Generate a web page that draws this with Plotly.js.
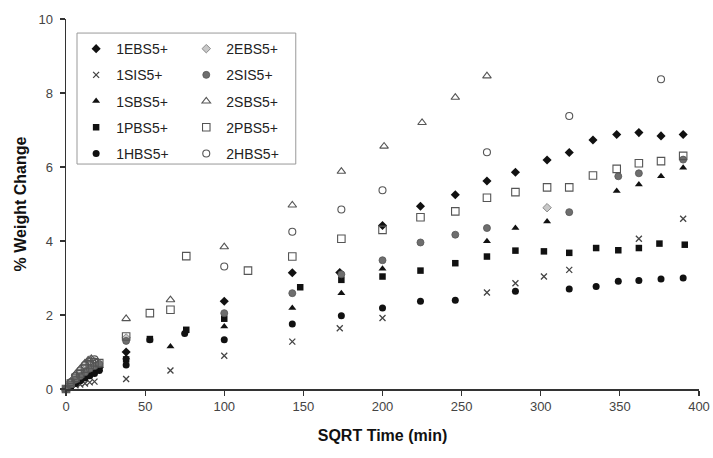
<!DOCTYPE html>
<html>
<head>
<meta charset="utf-8">
<script src="https://cdn.plot.ly/plotly-3.0.1.min.js"></script>
<style>html,body{margin:0;padding:0;background:#fff;}#chart{width:713px;height:458px;}</style>
</head>
<body>
<div id="chart"></div>
<script>
// ---- data ----
var x_1EBS = [0,3,6,9,12,15,18,21,38,100,143,173,200,224,246,266,284,304,318,333,348,362,376,390];
var y_1EBS = [0,0.1,0.2,0.3,0.38,0.45,0.52,0.58,1.0,2.37,3.14,3.15,4.42,4.94,5.25,5.62,5.86,6.19,6.39,6.73,6.88,6.93,6.84,6.88];

var x_2EBS = [0,3,6,9,12,15,18,38,304];
var y_2EBS = [0,0.2,0.38,0.52,0.68,0.78,0.75,1.38,4.9];

var x_1SIS = [0,3,6,9,12,15,18,38,66,100,143,173,200,266,284,302,318,362,390];
var y_1SIS = [0,0.05,0.1,0.12,0.15,0.18,0.2,0.27,0.5,0.9,1.28,1.64,1.92,2.61,2.86,3.04,3.22,4.06,4.6];

var x_2SIS = [0,3,6,9,12,15,18,21,38,100,143,174,200,224,246,266,318,349,362,390];
var y_2SIS = [0,0.12,0.25,0.35,0.45,0.55,0.62,0.68,1.3,2.05,2.59,3.1,3.48,3.96,4.17,4.35,4.78,5.75,5.83,6.2];

var x_1SBS = [0,3,6,9,12,15,18,21,38,66,100,143,174,200,266,284,304,348,362,376,390];
var y_1SBS = [0,0.08,0.17,0.25,0.33,0.4,0.47,0.53,0.85,1.15,1.69,2.19,2.59,3.25,3.99,4.35,4.53,5.35,5.53,5.75,5.98];

var x_2SBS = [0,3,6,9,12,14,16,38,66,100,143,174,201,225,246,266];
var y_2SBS = [0,0.2,0.4,0.55,0.7,0.78,0.82,1.9,2.41,3.84,4.97,5.88,6.56,7.2,7.88,8.46];

var x_1PBS = [0,3,6,9,12,15,18,21,38,53,76,100,148,174,200,224,246,266,284,302,318,335,349,362,375,391];
var y_1PBS = [0,0.09,0.18,0.27,0.35,0.42,0.5,0.56,0.8,1.35,1.6,1.9,2.75,2.95,3.04,3.2,3.4,3.58,3.74,3.72,3.68,3.81,3.75,3.81,3.93,3.9];

var x_2PBS = [0,3,6,9,12,15,18,21,38,53,66,76,115,143,174,200,224,246,266,284,304,318,333,348,362,376,390];
var y_2PBS = [0,0.15,0.3,0.42,0.55,0.65,0.72,0.7,1.42,2.05,2.14,3.59,3.2,3.58,4.06,4.3,4.64,4.8,5.17,5.32,5.45,5.45,5.77,5.95,6.1,6.16,6.3];

var x_1HBS = [0,3,6,9,12,15,18,21,38,53,75,100,143,174,200,224,246,284,318,335,349,362,376,390];
var y_1HBS = [0,0.07,0.15,0.22,0.3,0.36,0.42,0.5,0.65,1.33,1.5,1.33,1.76,1.98,2.19,2.37,2.4,2.64,2.7,2.77,2.91,2.93,2.97,3.0];

var x_2HBS = [0,3,6,9,12,15,18,100,143,174,200,266,318,376];
var y_2HBS = [0,0.18,0.35,0.5,0.65,0.75,0.8,3.31,4.25,4.85,5.37,6.4,7.38,8.37];

var seriesNames = ['1EBS5+','2EBS5+','1SIS5+','2SIS5+','1SBS5+','2SBS5+','1PBS5+','2PBS5+','1HBS5+','2HBS5+'];
var xTicks = [0,50,100,150,200,250,300,350,400];
var yTicks = [0,2,4,6,8,10];

// ---- styling ----
var black = '#111111';
var openLine = '#555555';
function tr(name, x, y, symbol, size, fill, lineColor, lineWidth, legend) {
  return {
    type: 'scatter', mode: 'markers', name: name, x: x, y: y,
    legend: legend, legendgroup: name, cliponaxis: false,
    marker: {symbol: symbol, size: size, color: fill, line: {color: lineColor, width: lineWidth}}
  };
}
var data = [
  tr(seriesNames[0], x_1EBS, y_1EBS, 'diamond', 7, black, black, 0, 'legend'),
  tr(seriesNames[2], x_1SIS, y_1SIS, 'x-thin', 6, '#444', '#444', 1.3, 'legend'),
  tr(seriesNames[4], x_1SBS, y_1SBS, 'triangle-up', 7, black, black, 0, 'legend'),
  tr(seriesNames[6], x_1PBS, y_1PBS, 'square', 6.5, black, black, 0, 'legend'),
  tr(seriesNames[8], x_1HBS, y_1HBS, 'circle', 7, black, black, 0, 'legend'),
  tr(seriesNames[1], x_2EBS, y_2EBS, 'diamond', 6.5, '#c8c8c8', '#8a8a8a', 1, 'legend2'),
  tr(seriesNames[3], x_2SIS, y_2SIS, 'circle', 7, '#6e6e6e', '#555', 0.8, 'legend2'),
  tr(seriesNames[5], x_2SBS, y_2SBS, 'triangle-up-open', 7.5, openLine, openLine, 1.1, 'legend2'),
  tr(seriesNames[7], x_2PBS, y_2PBS, 'square-open', 7.5, openLine, openLine, 1.1, 'legend2'),
  tr(seriesNames[9], x_2HBS, y_2HBS, 'circle-open', 7, openLine, openLine, 1.1, 'legend2')
];

var legendCommon = {
  font: {family: 'Liberation Sans, Arial, sans-serif', size: 14, color: '#222'},
  bgcolor: 'rgba(0,0,0,0)', borderwidth: 0,
  traceorder: 'grouped', tracegroupgap: 5,
  xanchor: 'left', yanchor: 'top', itemclick: false
};

var layout = {
  width: 713, height: 458,
  margin: {l: 66, r: 14, t: 19, b: 69},
  paper_bgcolor: '#fff', plot_bgcolor: '#fff',
  showlegend: true,
  legend: Object.assign({}, legendCommon, {x: 0.016, y: 0.962}),
  legend2: Object.assign({}, legendCommon, {x: 0.19, y: 0.962}),
  font: {family: 'Liberation Sans, Arial, sans-serif', color: '#333'},
  xaxis: {
    range: [0, 400], tickvals: xTicks, ticktext: xTicks.map(String),
    showgrid: false, zeroline: false, showline: true, linecolor: '#333', linewidth: 1.5,
    ticks: 'outside', ticklen: 5, tickcolor: '#333', tickwidth: 1.2,
    tickfont: {size: 13, color: '#444'},
    title: {text: 'SQRT Time (min)', font: {size: 16, color: '#111', weight: 'bold'}, standoff: 16}
  },
  yaxis: {
    range: [0, 10], tickvals: yTicks, ticktext: yTicks.map(String),
    showgrid: false, zeroline: false, showline: true, linecolor: '#333', linewidth: 1.5,
    ticks: 'outside', ticklen: 5, tickcolor: '#333', tickwidth: 1.2,
    tickfont: {size: 13, color: '#444'}, ticklabelstandoff: 4,
    title: {text: '% Weight Change', font: {size: 16, color: '#111', weight: 'bold'}, standoff: 8}
  },
  shapes: [{
    type: 'rect', xref: 'paper', yref: 'paper',
    x0: 0.0174, x1: 0.363, y0: 0.608, y1: 0.962,
    line: {color: '#999', width: 1}, fillcolor: 'rgba(0,0,0,0)'
  }]
};

Plotly.newPlot('chart', data, layout, {staticPlot: true, displayModeBar: false});
</script>
</body>
</html>
